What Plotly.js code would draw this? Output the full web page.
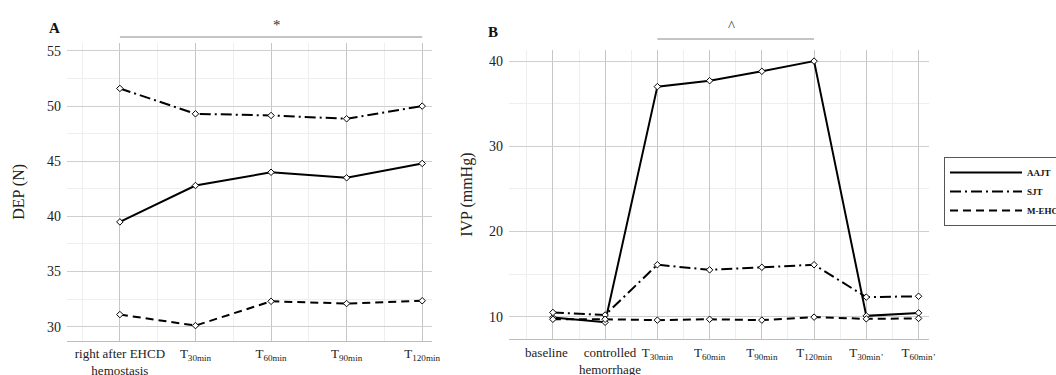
<!DOCTYPE html>
<html>
<head>
<meta charset="utf-8">
<script src="https://cdn.plot.ly/plotly-3.0.1.min.js"></script>
<style>html,body{margin:0;padding:0;background:#fff;}#chart{width:1056px;height:375px;}</style>
</head>
<body>
<div id="chart"></div>
<script>
// ---- data ----
const NB = '\u00a0';
const catA = ['right after EHCD<br>hemostasis', 'T<sub>30min</sub>', 'T<sub>60min</sub>', 'T<sub>90min</sub>', 'T<sub>120min</sub>'];
const aajtA = [39.5, 42.8, 44.0, 43.5, 44.8];
const sjtA = [51.6, 49.3, 49.15, 48.85, 50.0];
const mehcdA = [31.1, 30.1, 32.3, 32.1, 32.35];

const catB = ['baseline' + NB.repeat(4), NB.repeat(3) + 'controlled<br>' + NB.repeat(3) + 'hemorrhage', 'T<sub>30min</sub>', 'T<sub>60min</sub>', 'T<sub>90min</sub>', 'T<sub>120min</sub>', 'T<sub>30min’</sub>', 'T<sub>60min’</sub>'];
const aajtB = [9.9, 9.35, 37.0, 37.7, 38.8, 40.0, 10.1, 10.45];
const sjtB = [10.5, 10.2, 16.1, 15.5, 15.8, 16.1, 12.3, 12.4];
const mehcdB = [9.7, 9.7, 9.6, 9.7, 9.6, 9.95, 9.75, 9.8];

const seriesNames = ['AAJT', 'SJT', 'M-EHCD'];

// ---- styles ----
const FONT = 'Liberation Serif';
const dashes = ['solid', '11px,4px,2px,4px', '8px,5px'];
const idx = arr => arr.map((_, i) => i);

function trace(cats, ys, k, xa, ya) {
  return {
    x: idx(cats), y: ys, xaxis: xa, yaxis: ya,
    mode: 'lines+markers', showlegend: false, name: seriesNames[k],
    line: {color: '#000', width: 2, dash: dashes[k]},
    marker: {symbol: 'diamond', size: 5, color: '#fff', line: {color: '#000', width: 1}}
  };
}

const data = [
  trace(catA, aajtA, 0, 'x', 'y'),
  trace(catA, sjtA, 1, 'x', 'y'),
  trace(catA, mehcdA, 2, 'x', 'y'),
  trace(catB, aajtB, 0, 'x2', 'y2'),
  trace(catB, sjtB, 1, 'x2', 'y2'),
  trace(catB, mehcdB, 2, 'x2', 'y2'),
];
// legend-only line samples
seriesNames.forEach((n, k) => data.push({
  x: [null], y: [null], xaxis: 'x2', yaxis: 'y2', mode: 'lines', name: n, showlegend: true,
  line: {color: '#000', width: 2, dash: dashes[k]}
}));

const W = 1056, H = 375;
const px = v => v / W, py = v => 1 - v / H;

function xaxisDef(cats, dom, rng) {
  return {
    domain: dom, range: rng, type: 'linear',
    tickmode: 'array', tickvals: idx(cats), ticktext: cats,
    showgrid: true, gridcolor: '#c6c6c6', gridwidth: 1,
    minor: {tickmode: 'linear', tick0: 0.5, dtick: 1, showgrid: true, gridcolor: '#eeeeee', gridwidth: 1},
    zeroline: false, showline: true, linecolor: '#bdbdbd', linewidth: 1,
    ticks: '', ticklabelstandoff: 1, tickangle: 0,
    tickfont: {family: FONT, size: 13, color: '#222'}
  };
}
function yaxisDef(dom, rng, dt, title, anchor, so) {
  return {
    domain: dom, range: rng, dtick: dt, tick0: 0, anchor: anchor,
    showgrid: true, gridcolor: '#cfcfcf', gridwidth: 1,
    minor: {dtick: dt / 2, tick0: 0, showgrid: true, gridcolor: '#eeeeee', gridwidth: 1},
    zeroline: false, showline: false, ticks: '', ticklabelstandoff: 5,
    tickfont: {family: FONT, size: 14, color: '#222'},
    title: {text: title, font: {family: FONT, size: 16, color: '#222'}, standoff: so}
  };
}

const layout = {
  width: W, height: H,
  margin: {l: 0, r: 0, t: 0, b: 0, autoexpand: false},
  paper_bgcolor: '#fff', plot_bgcolor: '#fff',
  font: {family: FONT, color: '#222'},
  xaxis: Object.assign(xaxisDef(catA, [px(67), px(432)], [-0.70, 4.13]), {anchor: 'y'}),
  yaxis: yaxisDef([py(340.7), py(43)], [28.73, 55.72], 5, 'DEP (N)', 'x', 18),
  xaxis2: Object.assign(xaxisDef(catB, [px(509), px(929)], [-0.84, 7.2]), {anchor: 'y2'}),
  yaxis2: yaxisDef([py(339.3), py(50)], [7.35, 41.3], 10, 'IVP (mmHg)', 'x2', 12),
  showlegend: true,
  legend: {
    x: px(944), y: py(157), xanchor: 'left', yanchor: 'top',
    bordercolor: '#555', borderwidth: 1, bgcolor: '#fff',
    font: {family: FONT, size: 9, color: '#111', weight: 'bold'},
    tracegroupgap: 0, itemwidth: 72
  },
  shapes: [
    {type: 'line', xref: 'x', yref: 'paper', x0: 0, x1: 4, y0: py(37), y1: py(37), line: {color: '#8a8a8a', width: 1}},
    {type: 'line', xref: 'x2', yref: 'paper', x0: 2, x1: 5, y0: py(39), y1: py(39), line: {color: '#8a8a8a', width: 1}}
  ],
  annotations: [
    {xref: 'paper', yref: 'paper', x: px(271), y: py(15), text: '*', showarrow: false, font: {family: FONT, size: 15, color: '#333'}},
    {xref: 'paper', yref: 'paper', x: px(737), y: py(16), text: '^', showarrow: false, font: {family: FONT, size: 15, color: '#333'}},
    {xref: 'paper', yref: 'paper', x: px(47), y: py(18), text: '<b>A</b>', showarrow: false, font: {family: FONT, size: 15, color: '#111'}},
    {xref: 'paper', yref: 'paper', x: px(493), y: py(22), text: '<b>B</b>', showarrow: false, font: {family: FONT, size: 15, color: '#111'}}
  ]
};

Plotly.newPlot('chart', data, layout, {displayModeBar: false, staticPlot: true});
</script>
</body>
</html>
